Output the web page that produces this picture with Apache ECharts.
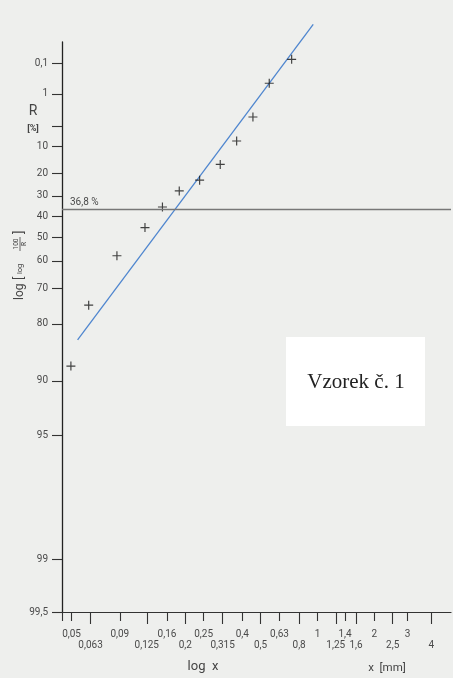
<!DOCTYPE html>
<html>
<head>
<meta charset="utf-8">
<script src="https://cdn.jsdelivr.net/npm/echarts@6/dist/echarts.min.js"></script>
<style>
  html, body { margin: 0; padding: 0; background: #eeefed; }
  #chart { width: 453px; height: 678px; }
</style>
</head>
<body>
<div id="chart"></div>
<script>
// Sieve analysis, Rosin-Rammler grid: residue R [%] on sieve x [mm]
const sieveX   = [0.0496, 0.0616, 0.0869, 0.1223, 0.1513, 0.1857, 0.238, 0.306, 0.3737, 0.4557, 0.5559, 0.7303];
const residueR = [88.0, 75.2, 57.9, 45.3, 35.4, 27.7, 22.8, 16.2, 8.4, 3.34, 0.50, 0.07];

// Straight RRSB fit drawn across the grid
const fitX = [0.0538, 0.950];
const fitR = [83.5, 0.001];

// Characteristic residue 1/e
const refR = 36.8;

// Ordinate ticks (R %)
const yTickR     = [0.1, 1, 5, 10, 20, 30, 40, 50, 60, 70, 80, 90, 95, 99, 99.5];
const yLabelR    = [0.1, 1, 10, 20, 30, 40, 50, 60, 70, 80, 90, 95, 99, 99.5];
const yLabelText = ['0,1', '1', '10', '20', '30', '40', '50', '60', '70', '80', '90', '95', '99', '99,5'];

// Abscissa ticks (x mm), two staggered rows
const xUpper     = [0.05, 0.09, 0.16, 0.25, 0.4, 0.63, 1, 1.4, 2, 3];
const xUpperText = ['0,05', '0,09', '0,16', '0,25', '0,4', '0,63', '1', '1,4', '2', '3'];
const xLower     = [0.063, 0.125, 0.2, 0.315, 0.5, 0.8, 1.25, 1.6, 2.5, 4];
const xLowerText = ['0,063', '0,125', '0,2', '0,315', '0,5', '0,8', '1,25', '1,6', '2,5', '4'];

// Axis extents
const xMinMM = 0.0445, xMaxMM = 5.09;
const rBottom = 99.5, rTop = 0.0109;

// Grid transforms: log x and log(log(100/R))
const lx = x => Math.log10(x);
const llr = r => Math.log10(Math.log10(100 / r));

function nearestLabel(v, vals, texts) {
  let best = 0, d = Infinity;
  vals.forEach((t, i) => { const e = Math.abs(t - v); if (e < d) { d = e; best = i; } });
  return texts[best];
}

const upperV = xUpper.map(lx);
const lowerV = xLower.map(lx);
const yLabV = yLabelR.map(llr);

const labelFont = { fontFamily: 'Roboto', fontSize: 10, color: '#4a4a4a' };
const plusPath = 'path://M-0.13,-1h0.26v2h-0.26zM-1,-0.13h2v0.26h-2z';

const chart = echarts.init(document.getElementById('chart'), null, { renderer: 'canvas' });

chart.setOption({
  backgroundColor: '#eeefed',
  animation: false,
  grid: { left: 62, right: 2, top: 42, bottom: 66 },
  xAxis: [
    {
      type: 'value', position: 'bottom',
      min: lx(xMinMM), max: lx(xMaxMM),
      axisLine: { show: true, onZero: false, lineStyle: { color: '#333', width: 1.2 } },
      axisTick: { show: true, length: 9, customValues: upperV.concat([lx(xMinMM)]), lineStyle: { color: '#333', width: 1.1 } },
      axisLabel: Object.assign({ customValues: upperV, margin: 17,
        formatter: v => nearestLabel(v, upperV, xUpperText) }, labelFont),
      splitLine: { show: false }
    },
    {
      type: 'value', position: 'bottom',
      min: lx(xMinMM), max: lx(xMaxMM),
      axisLine: { show: false, onZero: false },
      axisTick: { show: true, length: 12, customValues: lowerV, lineStyle: { color: '#333', width: 1.1 } },
      axisLabel: Object.assign({ customValues: lowerV, margin: 28,
        formatter: v => nearestLabel(v, lowerV, xLowerText) }, labelFont),
      splitLine: { show: false }
    }
  ],
  yAxis: {
    type: 'value',
    min: llr(rBottom), max: llr(rTop),
    axisLine: { show: true, onZero: false, lineStyle: { color: '#222', width: 1.3 } },
    axisTick: { show: true, length: 10, customValues: yTickR.map(llr), lineStyle: { color: '#333', width: 1.1 } },
    axisLabel: Object.assign({ customValues: yLabV, margin: 14,
      formatter: v => nearestLabel(v, yLabV, yLabelText) }, labelFont),
    splitLine: { show: false }
  },
  series: [
    {
      type: 'line',
      xAxisIndex: 0,
      data: fitX.map((x, i) => [lx(x), llr(fitR[i])]),
      symbol: 'none',
      clip: false,
      lineStyle: { color: '#4f86cf', width: 1.3 },
      z: 2,
      markLine: {
        silent: true,
        symbol: ['none', 'none'],
        lineStyle: { color: '#777', width: 1.3, type: 'solid' },
        label: {
          show: true, position: 'insideStartTop', distance: [8, 2],
          formatter: '36,8 %', fontFamily: 'Roboto', fontSize: 10, color: '#4a4a4a'
        },
        data: [{ yAxis: llr(refR) }]
      }
    },
    {
      type: 'scatter',
      xAxisIndex: 0,
      data: sieveX.map((x, i) => [lx(x), llr(residueR[i])]),
      symbol: plusPath,
      symbolSize: 9,
      itemStyle: { color: '#151515' },
      z: 3
    }
  ],
  graphic: [
    // sample box
    { type: 'rect', shape: { x: 286, y: 337, width: 139, height: 89 }, style: { fill: '#ffffff' }, z: 10 },
    { type: 'text', x: 356, y: 382, z: 11,
      style: { text: 'Vzorek č. 1', font: '21px "Liberation Serif"', fill: '#222',
               textAlign: 'center', textVerticalAlign: 'middle', align: 'center', verticalAlign: 'middle' } },
    // ordinate caption
    { type: 'text', x: 33, y: 111,
      style: { text: 'R', font: '14px Roboto', fill: '#444',
               textAlign: 'center', textVerticalAlign: 'middle', align: 'center', verticalAlign: 'middle' } },
    { type: 'text', x: 33, y: 129,
      style: { text: '[%]', font: 'bold 9px Roboto', fill: '#444',
               textAlign: 'center', textVerticalAlign: 'middle', align: 'center', verticalAlign: 'middle' } },
    // rotated scale caption: log [log 100/R]
    {
      type: 'group', x: 20, y: 300, rotation: Math.PI / 2,
      children: [
        { type: 'text', x: 0, y: 0, style: { text: 'log', font: '12px Roboto', fill: '#444', textAlign: 'left', textVerticalAlign: 'middle', align: 'left', verticalAlign: 'middle' } },
        { type: 'text', x: 20, y: 0, style: { text: '[', font: '13px Roboto', fill: '#444', textAlign: 'left', textVerticalAlign: 'middle', align: 'left', verticalAlign: 'middle' } },
        { type: 'text', x: 26, y: 0.5, style: { text: 'log', font: '7.5px Roboto', fill: '#444', textAlign: 'left', textVerticalAlign: 'middle', align: 'left', verticalAlign: 'middle' } },
        { type: 'text', x: 56, y: -4, style: { text: '100', font: '6.5px Roboto', fill: '#444', textAlign: 'center', textVerticalAlign: 'middle', align: 'center', verticalAlign: 'middle' } },
        { type: 'line', shape: { x1: 49, y1: 0, x2: 63, y2: 0 }, style: { stroke: '#444', lineWidth: 0.8 } },
        { type: 'text', x: 56, y: 4.5, style: { text: 'R', font: '6.5px Roboto', fill: '#444', textAlign: 'center', textVerticalAlign: 'middle', align: 'center', verticalAlign: 'middle' } },
        { type: 'text', x: 66, y: 0, style: { text: ']', font: '13px Roboto', fill: '#444', textAlign: 'left', textVerticalAlign: 'middle', align: 'left', verticalAlign: 'middle' } }
      ]
    },
    // abscissa captions
    { type: 'text', x: 203, y: 667,
      style: { text: 'log  x', font: '13px Roboto', fill: '#444',
               textAlign: 'center', textVerticalAlign: 'middle', align: 'center', verticalAlign: 'middle' } },
    { type: 'text', x: 387, y: 668,
      style: { text: 'x  [mm]', font: '11.5px Roboto', fill: '#444',
               textAlign: 'center', textVerticalAlign: 'middle', align: 'center', verticalAlign: 'middle' } }
  ]
});
</script>
</body>
</html>
